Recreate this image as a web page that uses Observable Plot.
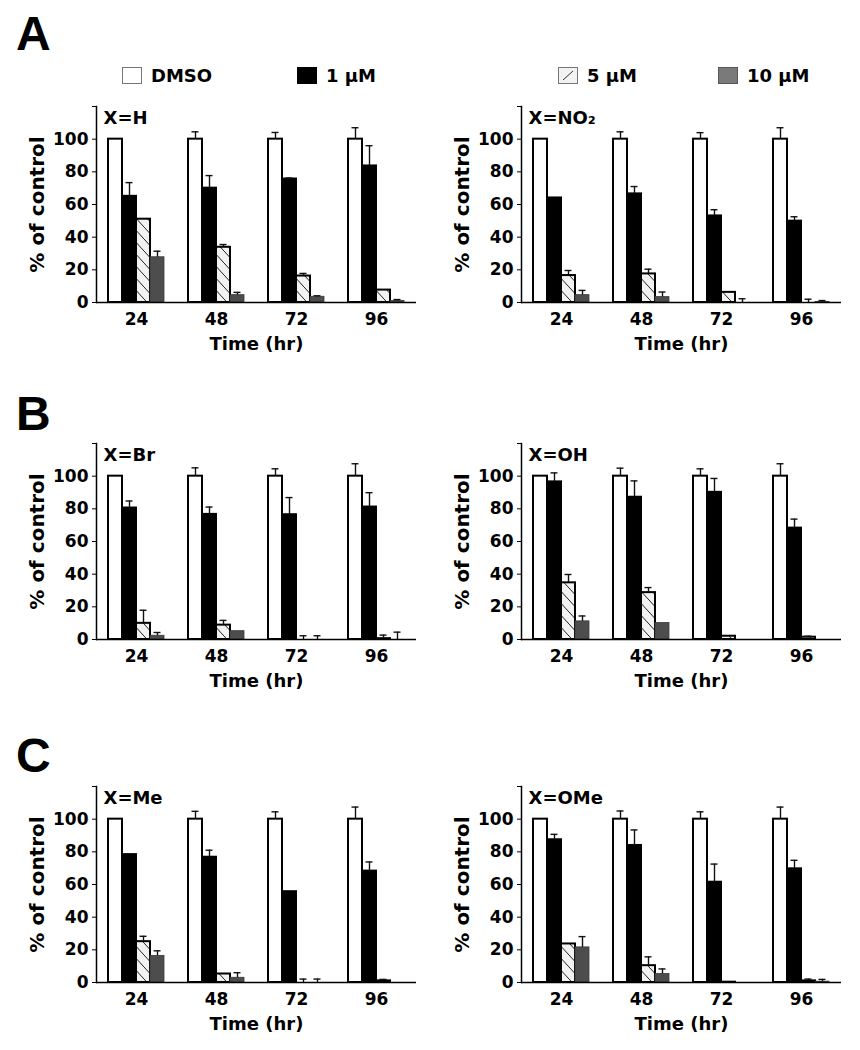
<!DOCTYPE html>
<html><head><meta charset="utf-8">
<script src="https://cdn.jsdelivr.net/npm/d3@7"></script>
<script src="https://cdn.jsdelivr.net/npm/@observablehq/plot@0.6"></script>
<style>
body{margin:0;background:#fff;}
#fig{position:relative;width:860px;height:1050px;font-family:"DejaVu Sans",sans-serif;font-weight:bold;color:#000;}
.panel{position:absolute;}
.letter{position:absolute;font-family:"Liberation Sans",Arial,sans-serif;font-weight:bold;font-size:48px;line-height:1;}
.leg{position:absolute;top:66px;display:flex;align-items:center;font-size:18px;height:18px;}
.leg svg{margin-right:9px;}
</style>
</head><body>
<div id="fig"></div>
<script>
// ---- data ----
const times = [24, 48, 72, 96];
const concs = ["DMSO", "1 µM", "5 µM", "10 µM"];
const panelLetters = ["A", "B", "C"];
const panelLabels = ["X=H", "X=NO₂", "X=Br", "X=OH", "X=Me", "X=OMe"];
// bar heights (% of control), time-major: 24h [DMSO,1,5,10], 48h ..., 72h ..., 96h ...
const valuesH   = [100,65,51,27.7,   100,70,33.8,4.5,   100,75.6,16.2,3.5, 100,83.6,7.6,1];
const errorsH   = [null,73.4,null,31.4, 104.5,77.7,35.5,6.2, 104.1,76.2,17.8,4.1, 107,96,null,1.8];
const valuesNO2 = [100,64,16.5,4.5,  100,66.5,17.5,3.3, 100,53,6.2,0,     100,49.8,0,0.3];
const errorsNO2 = [null,null,19.6,7.4, 104.5,71,20.4,6.4, 104,56.8,null,2.3, 107,52.5,2,1.2];
const valuesBr  = [100,80.5,9.9,2.3, 100,76.6,8.8,5.1, 100,76.4,0,0,      100,81.1,0.5,0];
const errorsBr  = [null,84.8,17.9,4.3, 105.1,81.1,11.7,null, 104.5,86.9,2.3,2.3, 107.6,89.9,2.7,4.5];
const valuesOH  = [100,96.5,34.7,11.1, 100,87.1,28.7,10.1, 100,90.1,2,0,  100,68.2,1.4,0];
const errorsOH  = [null,102,39.8,14.4, 104.9,97.1,31.8,null, 104.5,98.6,null,null, 107.6,73.7,2,null];
const valuesMe  = [100,78.3,25,16.3, 100,76.7,5.2,2.9, 100,55.6,0,0,      100,68.2,1,0];
const errorsMe  = [null,null,28.3,19.4, 104.8,81,null,6, 104.5,null,2.1,2.1, 107.4,73.8,1.9,null];
const valuesOMe = [100,87.4,23.6,21.5, 100,83.9,10.3,5.2, 100,61.4,0.2,0,  100,69.6,1,0.5];
const errorsOMe = [null,90.7,null,28.1, 105,93.4,15.7,8.3, 104.5,72.5,null,null, 107.4,74.8,2.1,1.9];
const yTicks = [0, 20, 40, 60, 80, 100, 120];

// ---- layout / styles ----
const fig = document.getElementById("fig");
const panelValues = [valuesH, valuesNO2, valuesBr, valuesOH, valuesMe, valuesOMe];
const panelErrors = [errorsH, errorsNO2, errorsBr, errorsOH, errorsMe, errorsOMe];
const rowTops = [95, 432, 775];
const colLefts = [0, 425];
const letterTops = [10, 390, 732];
const barStroke = ["#000", "#000", "#000", "#3a3a3a"];

function makePanel(idx) {
  const hid = "hatch" + idx;
  const barFill = ["#ffffff", "#000000", `url(#${hid})`, "#4d4d4d"];
  const rows = [];
  times.forEach((t, i) => concs.forEach((c, j) => {
    const k = i * 4 + j;
    rows.push({time: t, conc: c, value: panelValues[idx][k], err: panelErrors[idx][k]});
  }));
  const errRows = rows.filter(d => d.err != null);
  const chart = Plot.plot({
    width: 430, height: 267,
    marginLeft: 95, marginRight: 13, marginTop: 11, marginBottom: 60,
    style: {fontFamily: "DejaVu Sans", fontWeight: "bold", fontSize: "17px", color: "#000", background: "transparent", overflow: "visible"},
    fx: {domain: times, padding: 0, axis: "bottom", tickSize: 0, tickPadding: 10, label: "Time (hr)", labelAnchor: "center", labelOffset: 47},
    x: {domain: concs, paddingInner: 0, paddingOuter: 0.82, axis: null},
    y: {domain: [0, 120], ticks: yTicks, tickFormat: d => d === 120 ? "" : String(d), tickSize: 4, tickPadding: 4,
        label: "% of control", labelAnchor: "center", labelOffset: 67, labelArrow: false},
    marks: [
      ...concs.map((c, j) => Plot.barY(rows.filter(d => d.conc === c), {
        fx: "time", x: "conc", y: "value", fill: barFill[j], stroke: barStroke[j], strokeWidth: j === 3 ? 0.8 : 2
      })),
      Plot.ruleX(errRows, {fx: "time", x: "conc", y1: "value", y2: "err", stroke: "#111", strokeWidth: 1.4}),
      Plot.tickY(errRows, {fx: "time", x: "conc", y: "err", insetLeft: 3.5, insetRight: 3.5, stroke: "#111", strokeWidth: 1.4}),
      Plot.ruleY([0], {stroke: "#000", strokeWidth: 1.5}),
      Plot.frame({anchor: "left", facetAnchor: "left", stroke: "#000", strokeWidth: 1.5}),
      Plot.text([{time: times[0], label: panelLabels[idx]}], {fx: "time", text: "label", frameAnchor: "top-left", dx: 7, dy: 5, textAnchor: "start", lineAnchor: "top", fontSize: 18})
    ]
  });
  const svg = d3.select(chart.tagName.toLowerCase() === "svg" ? chart : chart.querySelector("svg"));
  const pat = svg.insert("defs", ":first-child").append("pattern")
    .attr("id", hid).attr("patternUnits", "userSpaceOnUse").attr("width", 11).attr("height", 12);
  pat.append("rect").attr("width", 11).attr("height", 12).attr("fill", "#f2f2f2");
  pat.append("path").attr("d", "M-1,-1.1L12,13.1").attr("stroke", "#222").attr("stroke-width", 1);
  svg.selectAll('[aria-label="y-axis label"] text, [aria-label="y-axis label"]').style("font-size", "20px");
  svg.selectAll('[aria-label="fx-axis label"] text, [aria-label="fx-axis label"]').style("font-size", "18px");
  const div = document.createElement("div");
  div.className = "panel";
  div.style.left = colLefts[idx % 2] + "px";
  div.style.top = rowTops[Math.floor(idx / 2)] + "px";
  div.appendChild(chart);
  fig.appendChild(div);
}
for (let i = 0; i < 6; i++) makePanel(i);

panelLetters.forEach((L, i) => {
  const d = document.createElement("div");
  d.className = "letter"; d.textContent = L;
  d.style.left = "16px"; d.style.top = letterTops[i] + "px";
  fig.appendChild(d);
});

// legend
const legLefts = [122, 297, 558, 718];
const legFill = ["#ffffff", "#000000", "#f2f2f2", "#7a7a7a"];
const legStroke = ["#777", "#000", "#777", "#555"];
concs.forEach((c, j) => {
  const item = document.createElement("div");
  item.className = "leg"; item.style.left = legLefts[j] + "px";
  const s = d3.create("svg").attr("width", 20).attr("height", 17);
  s.append("rect").attr("x", 0.5).attr("y", 0.5).attr("width", 19).attr("height", 16)
    .attr("fill", legFill[j]).attr("stroke", legStroke[j]);
  if (j === 2) s.append("path").attr("d", "M5,13L15,4").attr("stroke", "#333").attr("stroke-width", 1);
  item.appendChild(s.node());
  const t = document.createElement("span"); t.textContent = c;
  item.appendChild(t);
  fig.appendChild(item);
});
</script>
</body></html>
